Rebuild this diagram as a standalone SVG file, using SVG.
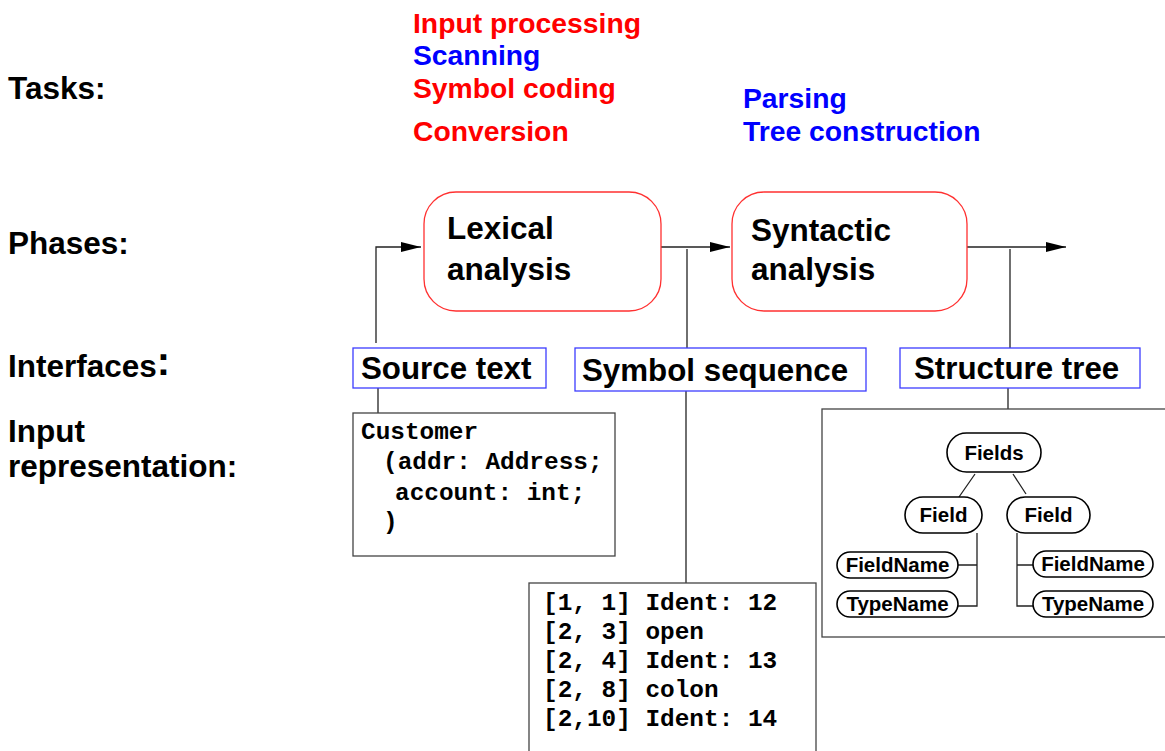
<svg xmlns="http://www.w3.org/2000/svg" width="1165" height="751" viewBox="0 0 1165 751">
<style>
text{font-family:"Liberation Sans",Arial,sans-serif;font-weight:bold}
.lab{font-size:31.5px;fill:#000}
.task{font-size:28.3px}
.red{fill:#ff0000}
.blue{fill:#0000ff}
.phase{fill:#fff;stroke:#ff3030;stroke-width:1.3}
.ptxt{font-size:31.5px;fill:#000}
.iface{fill:#fff;stroke:#3c3cff;stroke-width:1.3}
.itxt{font-size:31.3px;fill:#000}
.code{font-family:"Liberation Mono","Courier New",monospace;font-size:24.4px;fill:#000}
.box{fill:#fff;stroke:#444;stroke-width:1.3}
.ln{fill:none;stroke:#222;stroke-width:1.3}
.pill{fill:#fff;stroke:#000;stroke-width:1.6}
.ntxt{font-size:20.5px;fill:#000;text-anchor:middle}
</style>
<defs>
<marker id="ah" markerWidth="20" markerHeight="10" refX="20" refY="5" orient="auto" markerUnits="userSpaceOnUse">
<path d="M0,0 L20,5 L0,10 Z" fill="#000"/>
</marker>
</defs>

<g id="labels">
<text class="lab" x="8" y="99">Tasks:</text>
<text class="lab" x="8" y="254">Phases:</text>
<text class="lab" x="8" y="377">Interfaces<tspan font-size="40" dy="-2">:</tspan></text>
<text class="lab" x="8" y="442">Input</text>
<text class="lab" x="8" y="477">representation:</text>
</g>

<g id="tasks">
<text class="task red" x="413" y="33">Input processing</text>
<text class="task blue" x="413" y="65">Scanning</text>
<text class="task red" x="413" y="98">Symbol coding</text>
<text class="task red" x="413" y="141">Conversion</text>
<text class="task blue" x="743" y="108">Parsing</text>
<text class="task blue" x="743" y="141">Tree construction</text>
</g>

<g id="connectors">
<path class="ln" d="M376,343 V247 H421" marker-end="url(#ah)"/>
<path class="ln" d="M661,247 H730" marker-end="url(#ah)"/>
<path class="ln" d="M967,247 H1066" marker-end="url(#ah)"/>
<path class="ln" d="M687,249 V348"/>
<path class="ln" d="M1010,249 V348"/>
<path class="ln" d="M378,388 V413"/>
<path class="ln" d="M686,391 V583"/>
<path class="ln" d="M1008,388 V409"/>
</g>

<g id="lexical">
<rect class="phase" x="424" y="192" width="237" height="119" rx="32"/>
<text class="ptxt" x="447" y="239">Lexical</text>
<text class="ptxt" x="447" y="280">analysis</text>
</g>

<g id="syntactic">
<rect class="phase" x="732" y="192" width="235" height="119" rx="32"/>
<text class="ptxt" x="751" y="241">Syntactic</text>
<text class="ptxt" x="751" y="280">analysis</text>
</g>

<g id="source-text">
<rect class="iface" x="353" y="348" width="193" height="40"/>
<text class="itxt" x="361" y="379">Source text</text>
</g>

<g id="symbol-sequence">
<rect class="iface" x="575" y="348" width="291" height="43"/>
<text class="itxt" x="582" y="381">Symbol sequence</text>
</g>

<g id="structure-tree">
<rect class="iface" x="900" y="348" width="240" height="40"/>
<text class="itxt" x="914" y="379">Structure tree</text>
</g>

<g id="source-code">
<rect class="box" x="353" y="413" width="262" height="143"/>
<text class="code" x="361" y="439">Customer</text>
<text class="code" x="383" y="469">(addr: Address;</text>
<text class="code" x="395" y="500">account: int;</text>
<text class="code" x="383" y="529">)</text>
</g>

<g id="tokens">
<rect class="box" x="529" y="583" width="287" height="180"/>
<text class="code" x="543" y="610" xml:space="preserve">[1, 1] Ident: 12</text>
<text class="code" x="543" y="639" xml:space="preserve">[2, 3] open</text>
<text class="code" x="543" y="668" xml:space="preserve">[2, 4] Ident: 13</text>
<text class="code" x="543" y="697" xml:space="preserve">[2, 8] colon</text>
<text class="code" x="543" y="726" xml:space="preserve">[2,10] Ident: 14</text>
</g>

<g id="tree">
<rect class="box" x="822" y="409" width="360" height="228"/>
<g class="tree-lines">
<path class="ln" d="M975,474 L959,497 M1013,474 L1026,494"/>
<path class="ln" d="M977,533 V606 H958 M977,565 H958"/>
<path class="ln" d="M1017,533 V606 H1033 M1017,565 H1033"/>
</g>
<g id="n-fields">
<rect class="pill" x="947" y="433" width="94" height="39" rx="19.5"/>
<text class="ntxt" x="994" y="460">Fields</text>
</g>
<g id="n-field-l">
<rect class="pill" x="905" y="497" width="77" height="36" rx="18"/>
<text class="ntxt" x="943.5" y="522">Field</text>
</g>
<g id="n-field-r">
<rect class="pill" x="1007" y="497" width="83" height="36" rx="18"/>
<text class="ntxt" x="1048.5" y="522">Field</text>
</g>
<g id="n-fieldname-l">
<rect class="pill" x="837" y="552" width="121" height="26" rx="13"/>
<text class="ntxt" x="897.5" y="572">FieldName</text>
</g>
<g id="n-typename-l">
<rect class="pill" x="837" y="591" width="121" height="26" rx="13"/>
<text class="ntxt" x="897.5" y="611">TypeName</text>
</g>
<g id="n-fieldname-r">
<rect class="pill" x="1033" y="551" width="120" height="26" rx="13"/>
<text class="ntxt" x="1093" y="571">FieldName</text>
</g>
<g id="n-typename-r">
<rect class="pill" x="1033" y="591" width="120" height="26" rx="13"/>
<text class="ntxt" x="1093" y="611">TypeName</text>
</g>
</g>
</svg>
